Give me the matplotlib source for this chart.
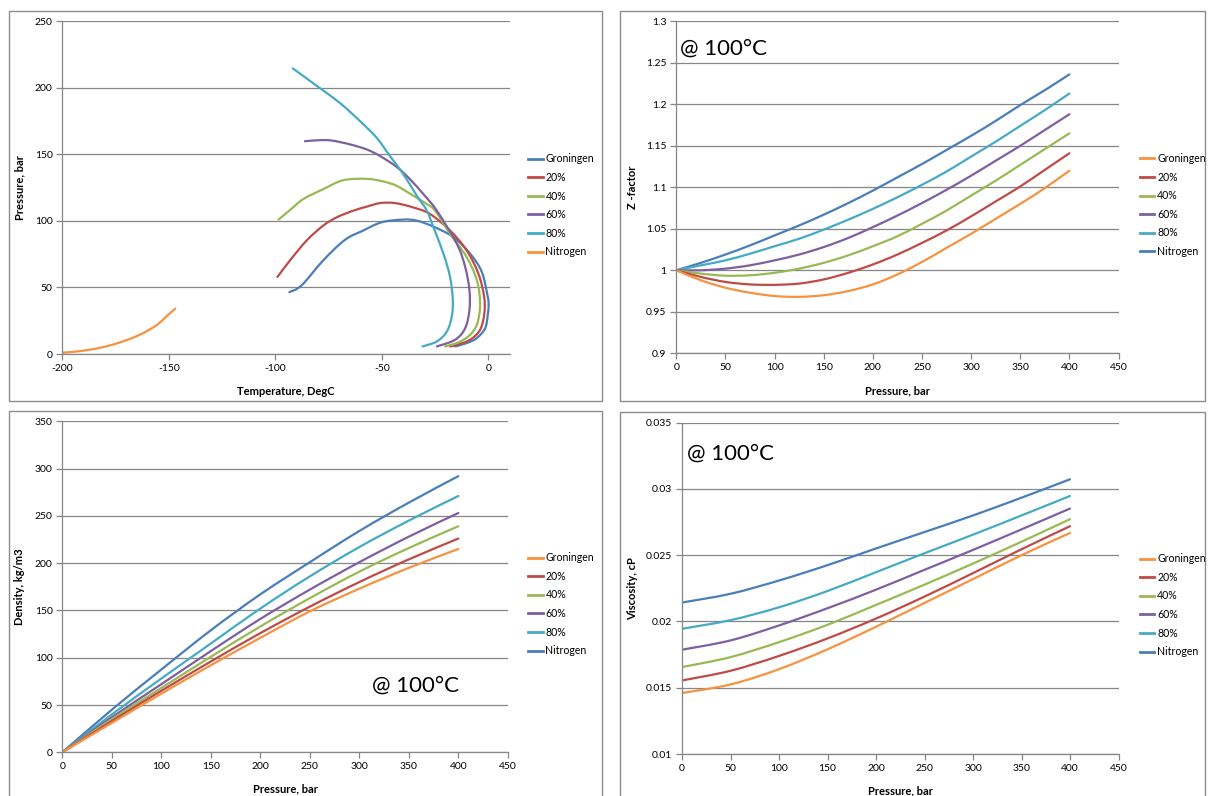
import matplotlib
matplotlib.use("Agg")
import matplotlib.pyplot as plt
import numpy as np
from matplotlib.patches import Rectangle, PathPatch
from matplotlib.path import Path
from matplotlib.ticker import FuncFormatter

plt.rcParams['font.family'] = ['Lato', 'DejaVu Sans']
plt.rcParams['axes.unicode_minus'] = False

# ---- data ----
names = ["Groningen", "20%", "40%", "60%", "80%", "Nitrogen"]

# phase envelopes (temperature degC, pressure bar)
env_T = {
    "Groningen": [-93.4, -87.6, -77.5, -67.3, -58.7, -50.1, -39.9, -33.6, -25.8, -16.4, -8.6, -3.1, -0.3, 0.1, -0.2, -1.5, -5.5, -10.2, -15.6],
    "20%": [-99, -93.1, -85.3, -77.5, -71.2, -63.4, -57.1, -50.8, -43.8, -35.2, -27.4, -18, -10.2, -4.7, -2.0, -1.9, -3.9, -8.6, -14.8, -18],
    "40%": [-98.5, -93.1, -86.9, -77.5, -68.1, -57.1, -49.3, -43, -35.2, -28.9, -25, -18, -10.2, -5.4, -3.9, -5.2, -8.6, -14.1, -20.3],
    "60%": [-86.1, -79, -73.5, -64.9, -57.1, -50.8, -43, -36.8, -30.5, -24.2, -14.8, -10.9, -8.9, -8.9, -10.9, -15.6, -24.2],
    "80%": [-91.8, -79, -69.6, -60.2, -52.4, -46.2, -39.9, -33.6, -28.9, -25.8, -21.1, -18, -16.7, -17.2, -19.5, -24.2, -30.9],
    "Nitrogen": [-200, -195, -188, -180, -172, -165, -160, -155, -151, -147],
}
env_P = {
    "Groningen": [46.5, 51.7, 70.4, 85.8, 92.8, 99, 101, 100.2, 95.7, 87.8, 75.4, 61.7, 43, 37, 30.6, 19.4, 11.9, 8.2, 5.7],
    "20%": [57.9, 70.4, 85.3, 96.5, 102.7, 107.7, 110.7, 113.4, 113.4, 110.1, 105.2, 92.8, 77.8, 60.4, 43, 30.6, 18.1, 10.7, 6.9, 5.7],
    "40%": [101, 108.2, 116.4, 123.9, 130.6, 131.6, 129.6, 126.3, 118.9, 112.7, 107.7, 90.3, 72.8, 55.4, 38, 23.1, 14.4, 8.7, 5.7],
    "60%": [159.9, 160.7, 160.4, 157.5, 153.7, 148.7, 140.5, 131.3, 120.1, 107.7, 82.8, 65.4, 48, 33, 19.4, 10.7, 5.7],
    "80%": [214.6, 199.7, 188.5, 174.9, 162.4, 148.7, 135.1, 118.9, 107.7, 95.2, 75.4, 57.9, 40.5, 28.1, 16.9, 9.4, 5.7],
    "Nitrogen": [1.0, 1.6, 3.0, 5.5, 9.2, 13.5, 17.5, 22.5, 28.5, 34],
}

# z-factor @100C
p_z = [0, 25, 50, 75, 100, 125, 150, 175, 200, 225, 250, 275, 300, 325, 350, 375, 400]
zfac = {
    "Groningen": [1.0, 0.988, 0.979, 0.973, 0.969, 0.968, 0.970, 0.975, 0.983, 0.995, 1.010, 1.027, 1.044, 1.062, 1.080, 1.099, 1.120],
    "20%": [1.0, 0.992, 0.986, 0.983, 0.9825, 0.984, 0.989, 0.997, 1.007, 1.019, 1.033, 1.048, 1.065, 1.083, 1.101, 1.121, 1.141],
    "40%": [1.0, 0.996, 0.9935, 0.994, 0.997, 1.002, 1.009, 1.018, 1.029, 1.041, 1.056, 1.072, 1.090, 1.108, 1.127, 1.146, 1.165],
    "60%": [1.0, 1.000, 1.002, 1.006, 1.012, 1.019, 1.028, 1.039, 1.052, 1.066, 1.081, 1.097, 1.114, 1.132, 1.150, 1.169, 1.188],
    "80%": [1.0, 1.006, 1.012, 1.020, 1.029, 1.038, 1.049, 1.061, 1.074, 1.088, 1.103, 1.119, 1.137, 1.155, 1.174, 1.193, 1.213],
    "Nitrogen": [1.0, 1.009, 1.019, 1.030, 1.042, 1.054, 1.067, 1.081, 1.096, 1.112, 1.128, 1.145, 1.162, 1.180, 1.199, 1.217, 1.236],
}

# density and viscosity @100C
p_dv = [0, 50, 100, 150, 200, 250, 300, 350, 400]
dens = {
    "Groningen": [0, 31, 62, 92, 121, 149, 173, 195, 215],
    "20%": [0, 33, 65, 96, 126, 154, 180, 204, 226],
    "40%": [0, 35, 68, 101, 133, 163, 191, 216, 239],
    "60%": [0, 37, 72, 107, 141, 172, 201, 228, 253],
    "80%": [0, 40, 78, 115, 152, 186, 217, 245, 271],
    "Nitrogen": [0, 45, 87.5, 129, 167, 201, 234, 264, 292],
}
visc = {
    "Groningen": [0.0146, 0.01525, 0.0164, 0.0179, 0.0196, 0.0214, 0.0232, 0.0250, 0.02668],
    "20%": [0.01555, 0.01628, 0.0174, 0.01872, 0.02022, 0.02188, 0.02365, 0.02545, 0.02719],
    "40%": [0.01656, 0.01731, 0.01844, 0.01975, 0.02125, 0.02278, 0.02437, 0.02602, 0.02772],
    "60%": [0.01787, 0.01857, 0.0197, 0.0210, 0.0224, 0.0239, 0.0254, 0.02695, 0.02852],
    "80%": [0.01945, 0.0201, 0.02107, 0.0223, 0.02372, 0.02515, 0.02655, 0.0280, 0.02947],
    "Nitrogen": [0.02143, 0.02209, 0.02309, 0.02425, 0.02551, 0.02675, 0.02800, 0.02934, 0.03073],
}

blue, red, green, purple, teal, orange = "#4A7EBB", "#BE4B48", "#98B954", "#7D60A0", "#46AAC5", "#F69240"
col_env = dict(zip(names, [blue, red, green, purple, teal, orange]))
col_rev = dict(zip(names, [orange, red, green, purple, teal, blue]))

W, H = 1209, 796
fig = plt.figure(figsize=(W / 100, H / 100), dpi=100)
grey = "#868686"


def box(x0, y0, x1, y1):
    # panel frame in pixel coords (top-left origin)
    fig.patches.append(Rectangle((x0 / W, 1 - y1 / H), (x1 - x0) / W, (y1 - y0) / H,
                                 transform=fig.transFigure, fill=False,
                                 edgecolor="#8c8c8c", lw=1.0))


def make_ax(l, t, r, b):
    ax = fig.add_axes([l / W, 1 - b / H, (r - l) / W, (b - t) / H])
    for s in ["top", "right"]:
        ax.spines[s].set_visible(False)
    for s in ["left", "bottom"]:
        ax.spines[s].set_color(grey)
        ax.spines[s].set_linewidth(0.9)
    ax.tick_params(direction="out", length=4, width=0.9, color=grey,
                   labelsize=7.5, pad=3)
    ax.yaxis.grid(True, color=grey, lw=0.9)
    ax.set_axisbelow(True)
    return ax


def smooth_line(ax, x, y, color):
    # excel style smoothed line through the points (cubic bezier segments)
    pts = np.column_stack([x, y]).astype(float)
    n = len(pts)
    verts = [pts[0]]
    codes = [Path.MOVETO]
    for i in range(n - 1):
        p0 = pts[i - 1] if i > 0 else pts[i]
        p1, p2 = pts[i], pts[i + 1]
        p3 = pts[i + 2] if i + 2 < n else pts[i + 1]
        verts += [p1 + (p2 - p0) / 6, p2 - (p3 - p1) / 6, p2]
        codes += [Path.CURVE4] * 3
    ax.add_patch(PathPatch(Path(verts, codes), fill=False, edgecolor=color,
                           lw=1.6, capstyle="round", joinstyle="round"))


def legend(ax, x, ycen, order, colors):
    hs = [plt.Line2D([], [], color=colors[n], lw=2) for n in order]
    ax.legend(hs, order, loc="upper left", frameon=False, fontsize=7.6,
              bbox_to_anchor=(x / W, 1 - (ycen - 6) / H), bbox_transform=fig.transFigure,
              borderpad=0, borderaxespad=0, handlelength=1.4, handletextpad=0.25,
              labelspacing=0.72)


gfmt = FuncFormatter(lambda v, pos: "%g" % round(v, 4))

box(8.6, 10.7, 602.3, 401)
box(619.6, 10.7, 1205, 401)
box(8.6, 410.7, 602.3, 805)
box(619.6, 411.7, 1205, 805)

# ---- panel 1: phase envelopes ----
ax1 = make_ax(62.3, 21.3, 509.7, 354)
for n in names:
    smooth_line(ax1, env_T[n], env_P[n], col_env[n])
ax1.set_xlim(-200, 10)
ax1.set_ylim(0, 250)
ax1.set_xticks([-200, -150, -100, -50, 0])
ax1.set_yticks(range(0, 251, 50))
ax1.xaxis.set_major_formatter(gfmt)
ax1.set_xlabel("Temperature, DegC", fontsize=8, fontweight="bold")
ax1.set_ylabel("Pressure, bar", fontsize=8, fontweight="bold")
ax1.xaxis.set_label_coords(0.5, -0.095)
ax1.yaxis.set_label_coords(-0.083, 0.5)
legend(ax1, 528, 159.3, names, col_env)

# ---- panel 2: z-factor ----
ax2 = make_ax(676.3, 21.3, 1118.5, 353.3)
for n in names[::-1]:
    smooth_line(ax2, p_z, zfac[n], col_rev[n])
ax2.set_xlim(0, 450)
ax2.set_ylim(0.9, 1.3)
ax2.set_xticks(range(0, 451, 50))
ax2.set_yticks([0.9, 0.95, 1.0, 1.05, 1.1, 1.15, 1.2, 1.25, 1.3])
ax2.yaxis.set_major_formatter(gfmt)
ax2.set_xlabel("Pressure, bar", fontsize=8, fontweight="bold")
ax2.set_ylabel("Z -factor", fontsize=8, fontweight="bold")
ax2.xaxis.set_label_coords(0.5, -0.098)
ax2.yaxis.set_label_coords(-0.087, 0.5)
legend(ax2, 1139.7, 159, names, col_rev)

# ---- panel 3: density ----
ax3 = make_ax(62.3, 421.3, 507.8, 752.3)
for n in names[::-1]:
    smooth_line(ax3, p_dv, dens[n], col_rev[n])
ax3.set_xlim(0, 450)
ax3.set_ylim(0, 350)
ax3.set_xticks(range(0, 451, 50))
ax3.set_yticks(range(0, 351, 50))
ax3.set_xlabel("Pressure, bar", fontsize=8, fontweight="bold")
ax3.set_ylabel("Density, kg/m3", fontsize=8, fontweight="bold")
ax3.xaxis.set_label_coords(0.5, -0.094)
ax3.yaxis.set_label_coords(-0.083, 0.5)
legend(ax3, 528, 558.3, names, col_rev)

# ---- panel 4: viscosity ----
ax4 = make_ax(682, 422.7, 1118.5, 754)
for n in names[::-1]:
    smooth_line(ax4, p_dv, visc[n], col_rev[n])
ax4.set_xlim(0, 450)
ax4.set_ylim(0.01, 0.035)
ax4.set_xticks(range(0, 451, 50))
ax4.set_yticks([0.01, 0.015, 0.02, 0.025, 0.03, 0.035])
ax4.yaxis.set_major_formatter(gfmt)
ax4.set_xlabel("Pressure, bar", fontsize=8, fontweight="bold")
ax4.set_ylabel("Viscosity, cP", fontsize=8, fontweight="bold")
ax4.xaxis.set_label_coords(0.5, -0.096)
ax4.yaxis.set_label_coords(-0.1015, 0.5)
legend(ax4, 1139.7, 559.3, names, col_rev)

# temperature notes
for x, y in [(680, 48.3), (371.6, 686), (686.7, 453.3)]:
    fig.text(x / W, 1 - y / H, "@ 100°C", fontsize=16, va="center", ha="left")

fig.savefig("out.png", dpi=100)
